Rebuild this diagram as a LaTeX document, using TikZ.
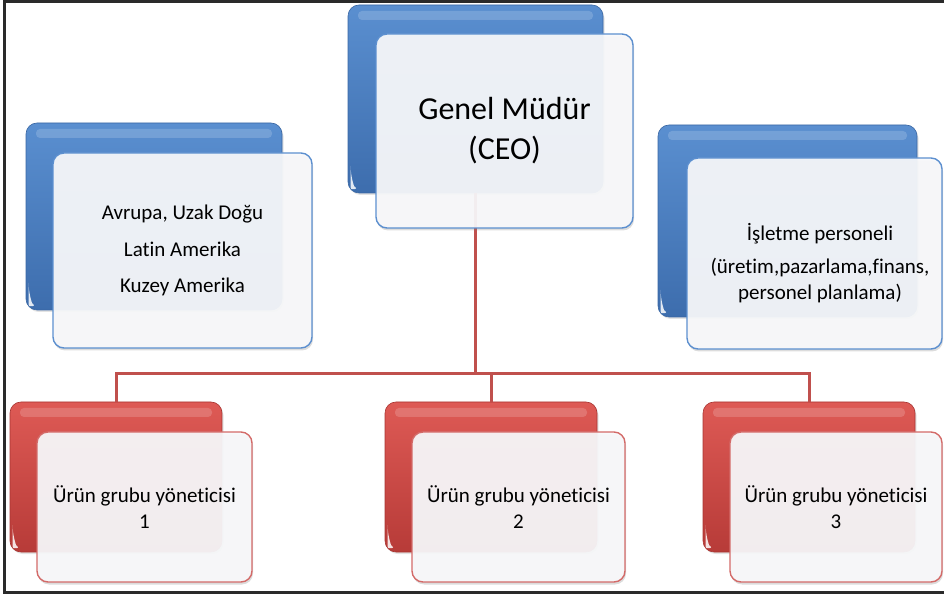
\documentclass[tikz,border=0pt]{standalone}
\usepackage{fontspec}
\setmainfont{Carlito}[Ligatures={NoCommon}]
\usetikzlibrary{shadows}

\definecolor{blueTop}{HTML}{5A8FD0}
\definecolor{blueBot}{HTML}{3D6DAD}
\definecolor{blueEdge}{HTML}{3A67A3}
\definecolor{blueLine}{HTML}{5C8FCF}
\definecolor{redTop}{HTML}{DE5A55}
\definecolor{redBot}{HTML}{B73B38}
\definecolor{redEdge}{HTML}{A83532}
\definecolor{redLine}{HTML}{D36A68}
\definecolor{frontFill}{HTML}{F8F9FB}
\definecolor{connRed}{HTML}{C0504D}
\definecolor{frameGray}{HTML}{2A2A2A}

% glossy highlights of the coloured back cards
\newcommand\cardgloss{%
  \fill[white,opacity=0.17,rounded corners=4pt]
    ([shift={(10pt,-6pt)}]path picture bounding box.north west) rectangle
    ([shift={(-10pt,-15pt)}]path picture bounding box.north east);
  \fill[white,opacity=0.85]
    ([shift={(2.5pt,16pt)}]path picture bounding box.south west)
    .. controls ([shift={(2.5pt,4pt)}]path picture bounding box.south west)
    .. ([shift={(14pt,2.5pt)}]path picture bounding box.south west)
    .. controls ([shift={(6pt,7pt)}]path picture bounding box.south west)
    .. ([shift={(2.5pt,16pt)}]path picture bounding box.south west) -- cycle;}

\begin{document}
\begin{tikzpicture}[x=1pt,y=1pt,
  card/.style={rectangle, rounded corners=11pt, inner sep=0pt},
  back/.style={card, line width=0.6pt,
    drop shadow={shadow xshift=1.5pt, shadow yshift=-2pt, opacity=0.22},
    path picture={\cardgloss}},
  backblue/.style={back, draw=blueEdge, top color=blueTop, bottom color=blueBot},
  backred/.style={back, draw=redEdge, top color=redTop, bottom color=redBot},
  front/.style={card, line width=1.4pt, fill=frontFill, fill opacity=0.93,
    text opacity=1, text=black, align=center,
    drop shadow={shadow xshift=1pt, shadow yshift=-2.5pt, opacity=0.28}},
  frontblue/.style={front, draw=blueLine},
  frontred/.style={front, draw=redLine},
  small/.style={font=\fontsize{21}{25.5}\selectfont},
  big/.style={font=\fontsize{32}{40}\selectfont},
  conn/.style={draw=connRed, line width=3pt}
]
\useasboundingbox (0,0) rectangle (944,594);

% coloured back cards
\node[backblue, minimum width=255pt, minimum height=188pt] (ceoB) at (475.5,495) {};
\node[backblue, minimum width=256pt, minimum height=187pt] (lB) at (154,377.5) {};
\node[backblue, minimum width=259pt, minimum height=192pt] (rB) at (787.5,373) {};
\node[backred, minimum width=212pt, minimum height=150pt] (p1B) at (116,117) {};
\node[backred, minimum width=212pt, minimum height=150pt] (p2B) at (491,117) {};
\node[backred, minimum width=212pt, minimum height=150pt] (p3B) at (809,117) {};

% reporting lines
\coordinate (bus) at (0,220);
\draw[conn] (ceoB.south) -- (ceoB.south |- bus);
\draw[conn] (p1B.north) -- (p1B.north |- bus) -- (p3B.north |- bus) -- (p3B.north);
\draw[conn] (p2B.north) -- (p2B.north |- bus);

% light front cards with the texts
\node[frontblue, big, minimum width=257pt, minimum height=194pt] (ceoF) at (504.5,463)
  {Genel Müdür\\(CEO)};
\node[frontblue, small, minimum width=259pt, minimum height=195pt] (lF) at (182.5,343.5)
  {Avrupa, Uzak Doğu\\[11pt]Latin Amerika\\[11pt]Kuzey Amerika};
\node[frontblue, minimum width=255pt, minimum height=191pt] (rF) at (814.5,340.5) {};
\node[small, align=center, text=black] (rT) at (820,331)
  {İşletme personeli\\[8pt](üretim,pazarlama,finans,\\personel planlama)};
\node[frontred, small, minimum width=215pt, minimum height=150pt] (p1F) at (144.5,87)
  {Ürün grubu yöneticisi\\1};
\node[frontred, small, minimum width=213pt, minimum height=150pt] (p2F) at (518.5,87)
  {Ürün grubu yöneticisi\\2};
\node[frontred, small, minimum width=212pt, minimum height=150pt] (p3F) at (836,87)
  {Ürün grubu yöneticisi\\3};

% frame
\draw[frameGray, line width=3pt] (4.5,594) -- (4.5,1.5) -- (944,1.5);
\draw[frameGray, line width=3pt] (3,592.5) -- (944,592.5);
\end{tikzpicture}
\end{document}
